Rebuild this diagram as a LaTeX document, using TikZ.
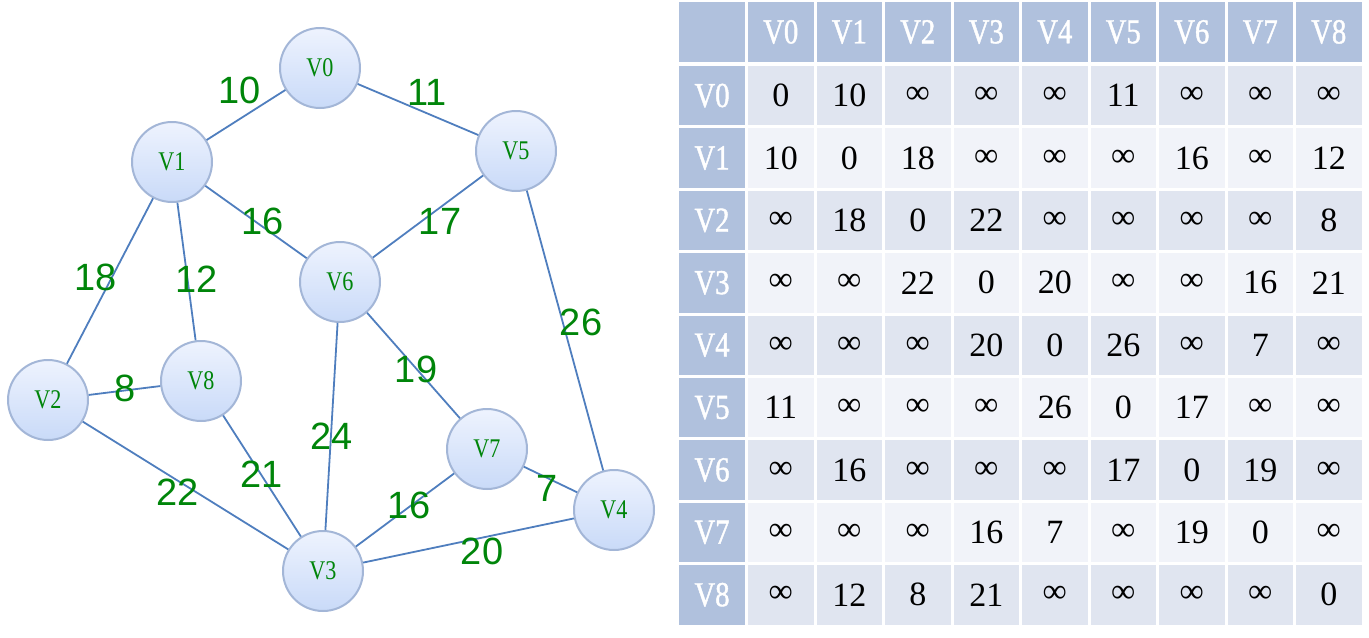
\documentclass[tikz,border=0pt]{standalone}
\usepackage{fontspec}
\setmainfont{Liberation Serif}
\newfontfamily\weightfont{Liberation Sans}
\newfontfamily\narrowfont[FakeStretch=0.82]{Liberation Serif}
\newfontfamily\headfont[FakeStretch=0.82,FakeBold=1.2]{Liberation Serif}
\newcommand\infy{\char"221E}
\definecolor{edgeblue}{HTML}{4F7EBE}
\definecolor{rimblue}{HTML}{A3B6D7}
\definecolor{labgreen}{HTML}{00850A}
\definecolor{headblue}{HTML}{B0C1DD}
\definecolor{rowdark}{HTML}{E0E5F0}
\definecolor{rowlight}{HTML}{F1F3F9}
\definecolor{balltop}{HTML}{EEF3FE}
\definecolor{ballbottom}{HTML}{C9DAF8}
\begin{document}
\begin{tikzpicture}
[x=0.5pt,y=-0.5pt,
  vertexdecorate/.style={shape=circle,minimum size=40pt,inner sep=0pt,draw=rimblue,line width=1pt,
    top color=balltop,bottom color=ballbottom,
    text=labgreen,font=\narrowfont\fontsize{13.5}{13.5}\selectfont},%
  linedecorate/.style={-,edgeblue,line width=0.9pt},%
  weightdecorate/.style={text=labgreen,font=\weightfont\fontsize{19}{19}\selectfont,inner sep=0pt},%
  headcell/.style={fill=headblue,text=white,minimum width=32.75pt,minimum height=29.7pt,inner sep=0pt,
    font=\headfont\fontsize{17.5}{17.5}\selectfont},%
  bodycell/.style={minimum width=32.75pt,minimum height=29.7pt,inner sep=0pt,
    font=\fontsize{17}{17}\selectfont}]
\useasboundingbox (0,0) rectangle (1369,637);
%% nodes or vertices
\foreach \nodename/\x/\y in {
  0/320/68, 1/172/162, 2/48/400, 3/323/571, 4/614/510,
  5/516/151, 6/340/282, 7/487/449, 8/201/381}
{
  \node (v\nodename) at (\x,\y) [vertexdecorate] {V\nodename};
}
%% edges or lines with weights
\foreach \startnode/\endnode/\weight/\x/\y in {
  0/1/10/240/90, 0/5/11/427/92, 1/6/16/263/221, 5/6/17/440/221,
  1/2/18/96/277, 1/8/12/197/279, 5/4/26/581/322, 6/7/19/416/369,
  2/8/8/125/388, 6/3/24/332/436, 8/3/21/262/474, 2/3/22/178/492,
  7/3/16/409/505, 7/4/7/547/488, 3/4/20/482/551}
{
  \draw[linedecorate] (v\startnode) -- (v\endnode);
  \node (w\startnode\endnode) at (\x,\y) [weightdecorate] {\weight};
}
%% adjacency matrix
\node (h00) at (712,32) [headcell] {};
\foreach \col [count=\i from 0] in {0,...,8}
{
  \node (hc\col) at (780.75+68.5*\i,32) [headcell] {V\col};
  \node (hr\col) at (712,95.6+62.4*\i) [headcell] {V\col};
}
\foreach \row [count=\j from 0] in {
  {0,10,\infy,\infy,\infy,11,\infy,\infy,\infy},
  {10,0,18,\infy,\infy,\infy,16,\infy,12},
  {\infy,18,0,22,\infy,\infy,\infy,\infy,8},
  {\infy,\infy,22,0,20,\infy,\infy,16,21},
  {\infy,\infy,\infy,20,0,26,\infy,7,\infy},
  {11,\infy,\infy,\infy,26,0,17,\infy,\infy},
  {\infy,16,\infy,\infy,\infy,17,0,19,\infy},
  {\infy,\infy,\infy,16,7,\infy,19,0,\infy},
  {\infy,12,8,21,\infy,\infy,\infy,\infy,0}}
{
  \pgfmathsetmacro\shade{ifthenelse(mod(\j,2)==0,1,0)}
  \foreach \val [count=\i from 0] in \row
  {
    \ifnum\shade=1 \def\cellcolor{rowdark}\else\def\cellcolor{rowlight}\fi
    \node (c\j\i) at (780.75+68.5*\i,95.6+62.4*\j) [bodycell,fill=\cellcolor] {\val};
  }
}
\end{tikzpicture}
\end{document}
